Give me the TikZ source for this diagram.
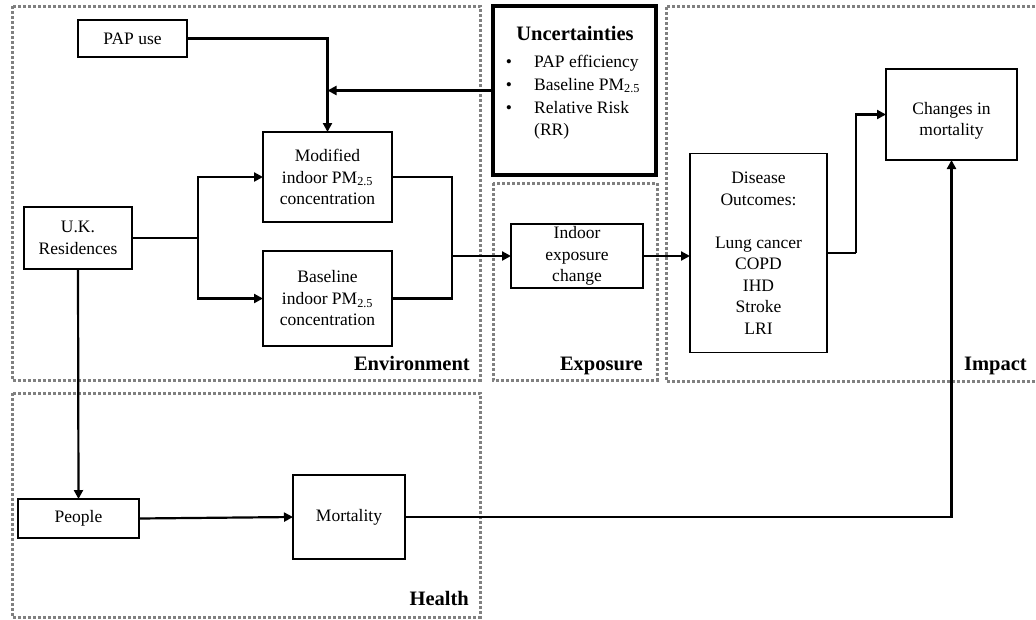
\documentclass[tikz,border=0pt]{standalone}
\usepackage{fontspec}
\setmainfont{Liberation Serif}
\usetikzlibrary{arrows.meta}
\begin{document}
\begin{tikzpicture}[x=1pt,y=-1pt,
  txt/.style={font=\fontsize{17.5}{21.5}\selectfont, inner sep=0pt, align=center},
  boxnode/.style={draw, line width=1.5pt, inner sep=0pt, outer sep=0pt, align=center,
    font=\fontsize{17.5}{21.5}\selectfont},
  group/.style={draw=black!50, line width=3pt, dash pattern=on 2.6pt off 2.4pt},
  grouplabel/.style={font=\fontsize{20.5}{24}\selectfont\bfseries, inner sep=0pt},
  conn/.style={line width=2.2pt},
  arr/.style={line width=2.2pt, -{Triangle[length=9pt,width=9pt]}}
]
\useasboundingbox (0,0) rectangle (1036,619);

% group frames
\draw[group] (12,6) rectangle (480,380);
\draw[group] (493,183) rectangle (657,380);
\draw[group] (1045,6) -- (666,6) -- (666,381) -- (1045,381);
\draw[group] (12,393) rectangle (480,617);

\node[grouplabel, anchor=base east] (lenv) at (470,370) {Environment};
\node[grouplabel, anchor=base east] (lexp) at (643,370) {Exposure};
\node[grouplabel, anchor=base east] (limp) at (1027,370) {Impact};
\node[grouplabel, anchor=base east] (lhlt) at (469,605) {Health};

% boxes
\node[boxnode, minimum width=109pt, minimum height=37pt] (pap) at (132.5,38.5) {PAP use};
\node[boxnode, minimum width=129pt, minimum height=90pt] (mod) at (327.5,177) {Modified\\indoor PM\textsubscript{2.5}\\concentration};
\node[boxnode, minimum width=129pt, minimum height=95pt] (base) at (327.5,298.5) {Baseline\\indoor PM\textsubscript{2.5}\\concentration};
\node[boxnode, minimum width=108pt, minimum height=62pt] (uk) at (78,238) {U.K.\\Residences};
\node[boxnode, minimum width=132pt, minimum height=64pt] (iec) at (577,256) {Indoor\\exposure\\change};
\node[boxnode, minimum width=137pt, minimum height=199pt] (dis) at (758.5,253) {Disease\\Outcomes:\\[21.5pt]Lung cancer\\COPD\\IHD\\Stroke\\LRI};
\node[boxnode, minimum width=131pt, minimum height=91pt] (chg) at (951.5,114.5) {\rule{0pt}{25pt}Changes in\\mortality};
\node[boxnode, minimum width=121pt, minimum height=39pt] (ppl) at (78.5,518.5) {People};
\node[boxnode, minimum width=112pt, minimum height=84pt] (mort) at (349,517) {Mortality};

% uncertainties box
\node[draw, line width=3.2pt, inner sep=0pt, outer sep=0pt, minimum width=163pt, minimum height=169pt] (unc) at (574.5,90.5) {};
\node[grouplabel, anchor=base] (unct) at (575,40) {Uncertainties};
\node[txt, anchor=base] (b1) at (509,67) {•};
\node[txt, anchor=base west] (u1) at (534,67) {PAP efficiency};
\node[txt, anchor=base] (b2) at (509,90) {•};
\node[txt, anchor=base west] (u2) at (534,90) {Baseline PM\textsubscript{2.5}};
\node[txt, anchor=base] (b3) at (509,113) {•};
\node[txt, anchor=base west] (u3) at (534,113) {Relative Risk};
\node[txt, anchor=base west] (u4) at (534,135) {(RR)};

% junction coordinates
\coordinate (j1) at (198,238);
\coordinate (j2) at (452,256);
\coordinate (j3) at (856,253);

% connectors
\draw[arr] (pap.east) -| (mod.north);
\draw[arr] (unc.west) -- (mod.north |- unc.west);
\draw[conn] (uk.east) -- (j1);
\draw[arr] (j1) |- (mod.west);
\draw[arr] (j1) |- (base.west);
\draw[conn] (mod.east) -| (j2);
\draw[conn] (base.east) -| (j2);
\draw[arr] (j2) -- (iec.west);
\draw[arr] (iec.east) -- (iec.east -| dis.west);
\draw[conn] (dis.east |- j3) -- (j3);
\draw[arr] (j3) |- (chg.west);
\draw[arr] (uk.south) -- (ppl.north);
\draw[arr] (ppl.east) -- (mort.west);
\draw[arr] (mort.east) -| (chg.south);
\end{tikzpicture}
\end{document}
